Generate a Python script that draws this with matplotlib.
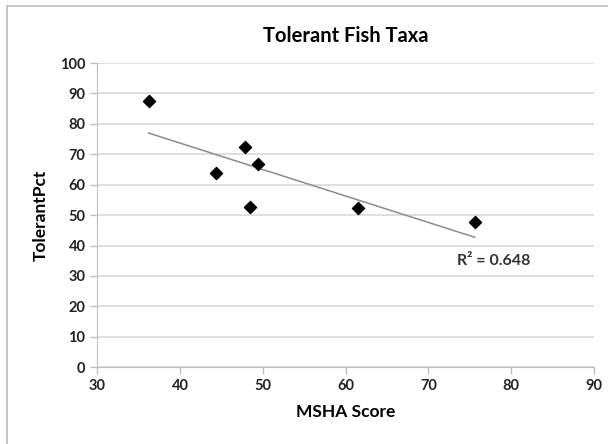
import numpy as np
import matplotlib.pyplot as plt
from matplotlib.patches import Rectangle

# values
msha_score = [36.2, 44.4, 47.8, 48.4, 49.4, 61.5, 75.6]
tolerant_pct = [87.6, 63.8, 72.3, 52.6, 66.7, 52.4, 47.9]
r2_label = "R² = 0.648"

plt.rcParams['font.family'] = ['Lato', 'DejaVu Sans']

fig = plt.figure(figsize=(6.08, 4.44), dpi=100)
ax = fig.add_axes([0.16, 0.173, 0.817, 0.685])

# chart border (Excel-style, cropped at right/bottom)
fig.patches.append(Rectangle((7 / 608, -0.05), 1.2, 1 - 6 / 444 + 0.05,
                             transform=fig.transFigure, fill=False,
                             edgecolor='#bdbdbd', linewidth=1.2))

# linear trendline
slope, intercept = np.polyfit(msha_score, tolerant_pct, 1)
xs = np.array([min(msha_score), max(msha_score)])
ax.plot(xs, slope * xs + intercept, color='#8c8c8c', linewidth=1.1, zorder=2)

ax.scatter(msha_score, tolerant_pct, marker='D', s=38, color='black', zorder=3)

ax.text(73.4, 35, r2_label, fontsize=11.5, fontweight='bold', color='#333333',
        va='center')

ax.set_xlim(30, 90)
ax.set_ylim(0, 100)
ax.set_xticks(range(30, 91, 10))
ax.set_yticks(range(0, 101, 10))
ax.yaxis.grid(True, color='#d9d9d9', linewidth=1.2)
ax.set_axisbelow(True)

for side in ['top', 'right']:
    ax.spines[side].set_visible(False)
for side in ['left', 'bottom']:
    ax.spines[side].set_color('#bfbfbf')
ax.tick_params(colors='#bfbfbf', labelcolor='#222222', length=5, width=1)
for lbl in ax.get_xticklabels() + ax.get_yticklabels():
    lbl.set_fontweight('bold')
    lbl.set_fontsize(10.5)

ax.set_xlabel('MSHA Score', fontsize=12.5, fontweight='bold', labelpad=8)
ax.set_ylabel('TolerantPct', fontsize=12.5, fontweight='bold', labelpad=8)
ax.set_title('Tolerant Fish Taxa', fontsize=14.5, fontweight='bold', pad=15)

fig.savefig('out.png', dpi=100)
